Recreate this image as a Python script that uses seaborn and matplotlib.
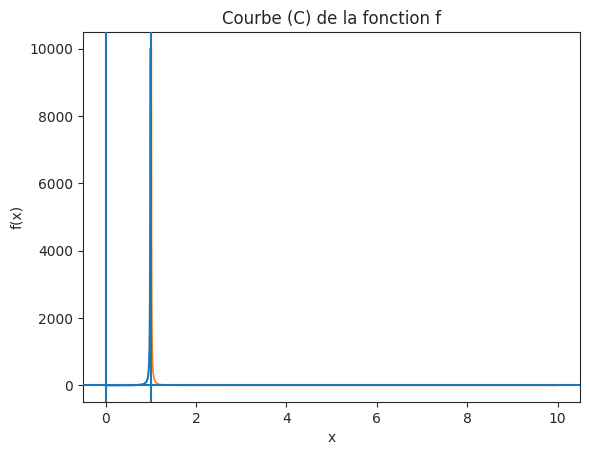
import matplotlib
matplotlib.use("Agg")
import matplotlib.pyplot as plt
import seaborn as sns

# points, left branch (x < 1)
left_x = [0.0, 0.2, 0.4, 0.5, 0.6, 0.7, 0.8, 0.85, 0.9, 0.93, 0.95, 0.96, 0.97, 0.975, 0.98, 0.985, 0.99]
left_y = [1.0, 1.56, 2.78, 4.0, 6.25, 11.1, 25.0, 44.4, 100.0, 204.0, 400.0, 625.0, 1111.0, 1600.0, 2500.0, 4444.0, 10000.0]

# right branch (x > 1)
right_x = [1.01, 1.015, 1.02, 1.025, 1.03, 1.04, 1.05, 1.07, 1.1, 1.15, 1.2, 1.3, 1.5, 1.75, 2.0, 2.5, 3.0, 4.0, 5.0, 6.0, 7.0, 8.0, 9.0, 10.0]
right_y = [10000.0, 4444.0, 2500.0, 1600.0, 1111.0, 625.0, 400.0, 204.0, 100.0, 44.4, 25.0, 11.1, 4.0, 1.78, 1.0, 0.44, 0.25, 0.11, 0.06, 0.04, 0.03, 0.02, 0.015, 0.012]

asymptotes_x = [0, 1]
asymptote_y = 0

sns.set_style("ticks")
plt.rcParams["font.family"] = ["DejaVu Sans"]

fig = plt.figure(figsize=(5.89, 4.55), dpi=100)
ax = fig.add_axes([0.141, 0.116, 0.844, 0.814])

sns.lineplot(x=right_x, y=right_y, ax=ax, color="C1", sort=False,
             estimator=None, linewidth=1.2, zorder=1)
sns.lineplot(x=left_x, y=left_y, ax=ax, color="C0", sort=False,
             estimator=None, zorder=2)

for xv in asymptotes_x:
    ax.axvline(xv, color="C0", linewidth=1.5, zorder=3)
ax.axhline(asymptote_y, color="C0", linewidth=1.5, zorder=3)

ax.set_xlim(-0.5, 10.5)
ax.set_ylim(-500, 10500)
ax.set_title("Courbe (C) de la fonction f")
ax.set_xlabel("x")
ax.set_ylabel("f(x)")

fig.savefig("out.png", dpi=100)
